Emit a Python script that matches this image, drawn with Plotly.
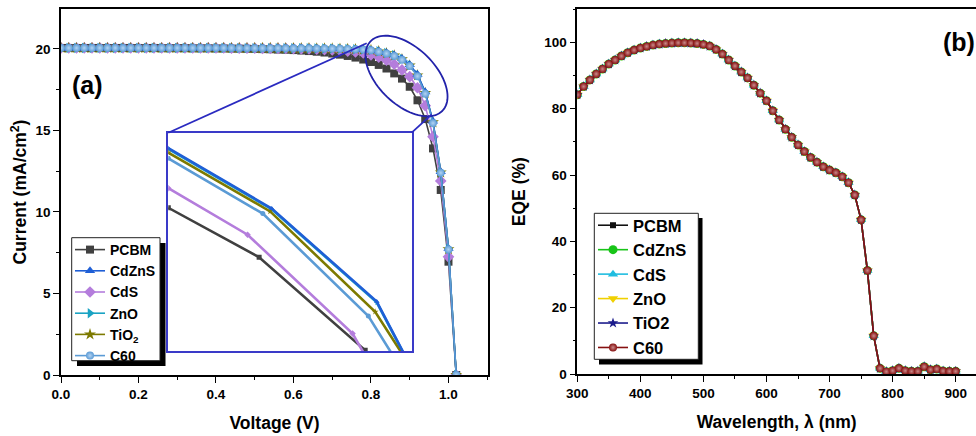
import numpy as np
import plotly.graph_objects as go

# ---------------- data ----------------
devices = ["PCBM", "CdZnS", "CdS", "ZnO", "TiO2", "C60"]

# J-V sweep (V)
voltage = [
    0.00, 0.02, 0.04, 0.06, 0.08, 0.10, 0.12, 0.14, 0.16, 0.18,
    0.20, 0.22, 0.24, 0.26, 0.28, 0.30, 0.32, 0.34, 0.36, 0.38,
    0.40, 0.42, 0.44, 0.46, 0.48, 0.50, 0.52, 0.54, 0.56, 0.58,
    0.60, 0.62, 0.64, 0.66, 0.68, 0.70, 0.72, 0.74, 0.76, 0.78,
    0.80, 0.82, 0.84, 0.86, 0.88, 0.90, 0.92, 0.94, 0.96, 0.98,
    1.00, 1.02,
]

# current density (mA/cm2)
j_pcbm = [
    20.06, 20.06, 20.06, 20.06, 20.06, 20.06, 20.06, 20.06, 20.06, 20.06,
    20.06, 20.06, 20.06, 20.05, 20.05, 20.05, 20.05, 20.04, 20.04, 20.04,
    20.03, 20.03, 20.02, 20.02, 20.01, 20.00, 19.99, 19.98, 19.96, 19.95,
    19.93, 19.90, 19.87, 19.83, 19.78, 19.72, 19.65, 19.57, 19.47, 19.35,
    19.20, 19.02, 18.80, 18.50, 18.18, 17.68, 16.85, 15.70, 13.90, 11.35,
    6.95, 0.00,
]
j_cdzns = [
    20.06, 20.06, 20.06, 20.06, 20.06, 20.06, 20.06, 20.06, 20.06, 20.06,
    20.06, 20.06, 20.06, 20.06, 20.06, 20.06, 20.06, 20.06, 20.06, 20.06,
    20.06, 20.06, 20.06, 20.05, 20.05, 20.05, 20.05, 20.05, 20.05, 20.04,
    20.04, 20.04, 20.04, 20.03, 20.03, 20.02, 20.01, 20.00, 19.98, 19.96,
    19.94, 19.87, 19.77, 19.63, 19.41, 19.03, 18.43, 17.36, 15.56, 12.46,
    7.76, 0.00,
]
j_cds = [
    20.06, 20.06, 20.06, 20.06, 20.06, 20.06, 20.06, 20.06, 20.06, 20.06,
    20.06, 20.06, 20.06, 20.06, 20.06, 20.06, 20.06, 20.06, 20.06, 20.06,
    20.06, 20.06, 20.05, 20.05, 20.05, 20.05, 20.04, 20.04, 20.03, 20.03,
    20.02, 20.01, 20.00, 19.98, 19.96, 19.94, 19.91, 19.87, 19.82, 19.75,
    19.64, 19.50, 19.31, 19.06, 18.71, 18.30, 17.62, 16.52, 14.62, 11.90,
    7.25, 0.00,
]
j_zno = [
    20.06, 20.06, 20.06, 20.06, 20.06, 20.06, 20.06, 20.06, 20.06, 20.06,
    20.06, 20.06, 20.06, 20.06, 20.06, 20.06, 20.06, 20.06, 20.06, 20.06,
    20.06, 20.06, 20.06, 20.05, 20.05, 20.05, 20.05, 20.05, 20.05, 20.04,
    20.04, 20.04, 20.04, 20.03, 20.03, 20.02, 20.01, 20.00, 19.98, 19.96,
    19.93, 19.86, 19.75, 19.61, 19.39, 19.01, 18.41, 17.34, 15.54, 12.45,
    7.75, 0.00,
]
j_tio2 = [
    20.06, 20.06, 20.06, 20.06, 20.06, 20.06, 20.06, 20.06, 20.06, 20.06,
    20.06, 20.06, 20.06, 20.06, 20.06, 20.06, 20.06, 20.06, 20.06, 20.06,
    20.06, 20.06, 20.06, 20.05, 20.05, 20.05, 20.05, 20.05, 20.05, 20.04,
    20.04, 20.04, 20.04, 20.03, 20.03, 20.02, 20.01, 20.00, 19.98, 19.96,
    19.93, 19.85, 19.74, 19.60, 19.37, 18.98, 18.38, 17.30, 15.50, 12.42,
    7.72, 0.00,
]
j_c60 = [
    20.06, 20.06, 20.06, 20.06, 20.06, 20.06, 20.06, 20.06, 20.06, 20.06,
    20.06, 20.06, 20.06, 20.06, 20.06, 20.06, 20.06, 20.06, 20.06, 20.06,
    20.06, 20.06, 20.06, 20.05, 20.05, 20.05, 20.05, 20.05, 20.05, 20.04,
    20.04, 20.04, 20.04, 20.03, 20.03, 20.02, 20.01, 20.00, 19.98, 19.96,
    19.92, 19.83, 19.72, 19.57, 19.33, 18.95, 18.33, 17.25, 15.45, 12.40,
    7.70, 0.00,
]

# magnified knee region shown in the inset (V, mA/cm2)
inset_v_pcbm = [0.8800, 0.8973, 0.9175, 0.9375]
inset_j_pcbm = [17.97, 17.29, 16.01, 13.50]
inset_v_cds = [0.8800, 0.8951, 0.9151, 0.9351]
inset_j_cds = [18.24, 17.60, 16.24, 13.72]
inset_v_c60 = [0.8800, 0.8980, 0.9181, 0.9381]
inset_j_c60 = [18.65, 17.89, 16.48, 14.17]
inset_v_zno = [0.8800, 0.8997, 0.9197, 0.9397]
inset_j_zno = [18.78, 17.95, 16.67, 13.92]
inset_v_tio2 = [0.8800, 0.8994, 0.9194, 0.9394]
inset_j_tio2 = [18.73, 17.92, 16.54, 14.29]
inset_v_cdzns = [0.8800, 0.8997, 0.9197, 0.9397]
inset_j_cdzns = [18.79, 17.96, 16.68, 13.92]

# EQE spectrum
wavelength = [
    300, 310, 320, 330, 340, 350, 360, 370, 380, 390,
    400, 410, 420, 430, 440, 450, 460, 470, 480, 490,
    500, 510, 520, 530, 540, 550, 560, 570, 580, 590,
    600, 610, 620, 630, 640, 650, 660, 670, 680, 690,
    700, 710, 720, 730, 740, 750, 760, 770, 780, 790,
    800, 810, 820, 830, 840, 850, 860, 870, 880, 890,
    900,
]
eqe_percent = [
    84.2, 86.7, 88.7, 90.5, 92.0, 93.5, 94.7, 95.9, 96.9, 97.7,
    98.3, 98.8, 99.2, 99.5, 99.7, 99.8, 99.9, 99.9, 99.8, 99.7,
    99.4, 98.9, 97.9, 96.5, 94.7, 92.9, 91.1, 89.3, 87.1, 84.7,
    82.4, 79.4, 76.6, 73.8, 71.4, 69.1, 67.1, 65.3, 63.9, 62.5,
    61.5, 60.7, 59.5, 57.7, 54.0, 46.5, 31.2, 11.5, 1.7, 0.7,
    1.0, 1.7, 1.0, 0.8, 0.8, 2.2, 1.3, 1.5, 0.9, 0.8,
    0.8,
]

# ---------------- layout helpers ----------------
W, H = 976, 436
FONT = "Liberation Sans, Arial, sans-serif"


def fx(px):
    return px / W


def fy(py):
    return 1 - py / H


fig = go.Figure()

# ---------------- (a) J-V curves ----------------
jv_style = {
    "PCBM": dict(y=j_pcbm, color="#404040", symbol="square", size=8, rank=1),
    "CdZnS": dict(y=j_cdzns, color="#1f5fd6", symbol="triangle-up", size=9, rank=2),
    "CdS": dict(y=j_cds, color="#b47ddc", symbol="diamond", size=9, rank=3),
    "ZnO": dict(y=j_zno, color="#1aa3c3", symbol="triangle-right", size=9, rank=4),
    "TiO2": dict(y=j_tio2, color="#7d7a00", symbol="star", size=9, rank=5),
    "C60": dict(y=j_c60, color="#5b9bd5", symbol="circle", size=8, rank=6),
}
jv_labels = {"TiO2": "TiO<sub>2</sub>"}

for name in ["PCBM", "CdS", "ZnO", "TiO2", "CdZnS", "C60"]:
    s = jv_style[name]
    marker = dict(symbol=s["symbol"], size=s["size"], color=s["color"], line=dict(width=0))
    if name == "C60":
        marker["gradient"] = dict(type="radial", color="#b4d3f2")
    fig.add_trace(go.Scatter(
        x=voltage, y=s["y"], mode="lines+markers",
        name=jv_labels.get(name, name), legendrank=s["rank"], legend="legend",
        line=dict(color=s["color"], width=1.6), marker=marker,
        xaxis="x", yaxis="y",
    ))

# inset: magnified knee
inset_series = [
    ("PCBM", inset_v_pcbm, inset_j_pcbm),
    ("CdS", inset_v_cds, inset_j_cds),
    ("C60", inset_v_c60, inset_j_c60),
    ("ZnO", inset_v_zno, inset_j_zno),
    ("TiO2", inset_v_tio2, inset_j_tio2),
    ("CdZnS", inset_v_cdzns, inset_j_cdzns),
]
for name, vv, jj in inset_series:
    s = jv_style[name]
    fig.add_trace(go.Scatter(
        x=vv, y=jj, mode="lines+markers", showlegend=False,
        line=dict(color=s["color"], width=2.6),
        marker=dict(symbol=s["symbol"], size=5, color=s["color"]),
        xaxis="x3", yaxis="y3", cliponaxis=True,
    ))

# ---------------- (b) EQE ----------------
eqe_style = {
    "PCBM": dict(color="#111111", symbol="square", size=6),
    "CdZnS": dict(color="#18c418", symbol="circle", size=9),
    "CdS": dict(color="#20bde0", symbol="triangle-up", size=9),
    "ZnO": dict(color="#f0d000", symbol="triangle-down", size=9),
    "TiO2": dict(color="#1c1c8c", symbol="star", size=8),
    "C60": dict(color="#861010", symbol="circle", size=8),
}
for name in devices:
    s = eqe_style[name]
    marker = dict(symbol=s["symbol"], size=s["size"], color=s["color"], line=dict(width=0))
    if name == "C60":
        marker["gradient"] = dict(type="radial", color="#c98a8a")
    fig.add_trace(go.Scatter(
        x=wavelength, y=eqe_percent, mode="lines+markers", name=name,
        legend="legend2", line=dict(color=s["color"], width=1.6), marker=marker,
        xaxis="x2", yaxis="y2",
    ))

# ---------------- axes ----------------
tickfont = dict(family=FONT, size=13.5, color="black", weight="bold")
titlefont = dict(family=FONT, size=17.5, color="black", weight="bold")
axis_common = dict(
    showline=True, linecolor="black", linewidth=1.6, ticks="outside",
    ticklen=6, tickwidth=1.4, tickcolor="black", showgrid=False, zeroline=False,
    tickfont=tickfont, automargin=False,
)

fig.update_layout(
    width=W, height=H,
    margin=dict(l=0, r=0, t=0, b=0),
    paper_bgcolor="white", plot_bgcolor="rgba(0,0,0,0)",
    xaxis=dict(
        **axis_common, domain=[fx(61), fx(488)], range=[0, 1.102], mirror=True,
        tickvals=[0, 0.2, 0.4, 0.6, 0.8, 1.0], ticktext=["0.0", "0.2", "0.4", "0.6", "0.8", "1.0"],
        minor=dict(dtick=0.1, ticks="outside", ticklen=3, tickcolor="black", tickwidth=1.2),
        title=dict(text="Voltage (V)", font=titlefont, standoff=16), anchor="y",
    ),
    yaxis=dict(
        **axis_common, domain=[fy(375), fy(9)], range=[0, 22.45], mirror=True,
        tickvals=[0, 5, 10, 15, 20],
        minor=dict(dtick=2.5, ticks="outside", ticklen=3, tickcolor="black", tickwidth=1.2),
        title=dict(text="Current (mA/cm<sup>2</sup>)", font=titlefont, standoff=4), anchor="x",
    ),
    xaxis2=dict(
        **axis_common, domain=[fx(577.3), 1.0], range=[300, 932.2], mirror=True,
        tickvals=[300, 400, 500, 600, 700, 800, 900],
        minor=dict(dtick=50, ticks="outside", ticklen=3, tickcolor="black", tickwidth=1.2),
        title=dict(text="Wavelength, λ (nm)", font=titlefont, standoff=16), anchor="y2",
    ),
    yaxis2=dict(
        **axis_common, domain=[fy(374), fy(9.3)], range=[0, 110],
        tickvals=[0, 20, 40, 60, 80, 100],
        minor=dict(dtick=10, ticks="outside", ticklen=3, tickcolor="black", tickwidth=1.2),
        title=dict(text="EQE (%)", font=titlefont, standoff=14), anchor="x2",
    ),
    xaxis3=dict(
        domain=[fx(168.3), fx(411.7)], range=[0.88, 0.92636], anchor="y3",
        showline=True, mirror=True, linecolor="#3a3ac8", linewidth=2,
        showticklabels=False, ticks="", showgrid=False, zeroline=False,
    ),
    yaxis3=dict(
        domain=[fy(351), fy(132.7)], range=[16.0, 19.003], anchor="x3",
        showline=True, mirror=True, linecolor="#3a3ac8", linewidth=2,
        showticklabels=False, ticks="", showgrid=False, zeroline=False,
    ),
    legend=dict(
        x=fx(70), y=fy(234), xanchor="left", yanchor="top",
        bgcolor="rgba(0,0,0,0)", borderwidth=0, tracegroupgap=0,
        font=dict(family=FONT, size=14, color="black", weight="bold"),
    ),
    legend2=dict(
        x=fx(593), y=fy(208), xanchor="left", yanchor="top",
        bgcolor="rgba(0,0,0,0)", borderwidth=0, tracegroupgap=0,
        font=dict(family=FONT, size=16.5, color="black", weight="bold"),
    ),
    showlegend=True,
)

# ---------------- decorations ----------------
shapes = []


def rect(x0, y0, x1, y1, **kw):
    return dict(type="rect", xref="paper", yref="paper",
                x0=fx(x0), x1=fx(x1), y0=fy(y1), y1=fy(y0), layer="above", **kw)


# legend frames with drop shadow
shapes.append(rect(77, 243, 165.5, 366, fillcolor="black", line=dict(width=0)))
shapes.append(rect(71.7, 237.7, 160, 360.7, fillcolor="white", line=dict(color="#222222", width=1)))
shapes.append(rect(599, 218, 702.5, 364.5, fillcolor="black", line=dict(width=0)))
shapes.append(rect(594.3, 213.3, 698.3, 359.3, fillcolor="white", line=dict(color="#222222", width=1)))

# tilted ellipse around the knee of the J-V curves
cx, cy, a, b, th = 406.5, 76.0, 50.0, 28.5, np.deg2rad(44)
t = np.linspace(0, 2 * np.pi, 90)
ex = cx + a * np.cos(t) * np.cos(th) - b * np.sin(t) * np.sin(th)
ey = cy + a * np.cos(t) * np.sin(th) + b * np.sin(t) * np.cos(th)
path = "M " + " L ".join(f"{fx(x):.5f},{fy(y):.5f}" for x, y in zip(ex, ey)) + " Z"
shapes.append(dict(type="path", xref="paper", yref="paper", path=path,
                   line=dict(color="#2222aa", width=1.8), layer="above"))

# connectors from the ellipse to the inset frame
for (x0, y0, x1, y1) in [(168.3, 132.7, 366.7, 43.3), (411.7, 132.7, 431.7, 114.3)]:
    shapes.append(dict(type="line", xref="paper", yref="paper",
                       x0=fx(x0), y0=fy(y0), x1=fx(x1), y1=fy(y1),
                       line=dict(color="#2a2ac0", width=1.8), layer="above"))

fig.update_layout(shapes=shapes)

fig.add_annotation(text="(a)", x=fx(70), y=fy(85), xref="paper", yref="paper",
                   xanchor="left", yanchor="middle", showarrow=False,
                   font=dict(family=FONT, size=25, color="black", weight="bold"))
fig.add_annotation(text="(b)", x=fx(941), y=fy(42), xref="paper", yref="paper",
                   xanchor="left", yanchor="middle", showarrow=False,
                   font=dict(family=FONT, size=25, color="black", weight="bold"))

fig.write_html("out.html")
